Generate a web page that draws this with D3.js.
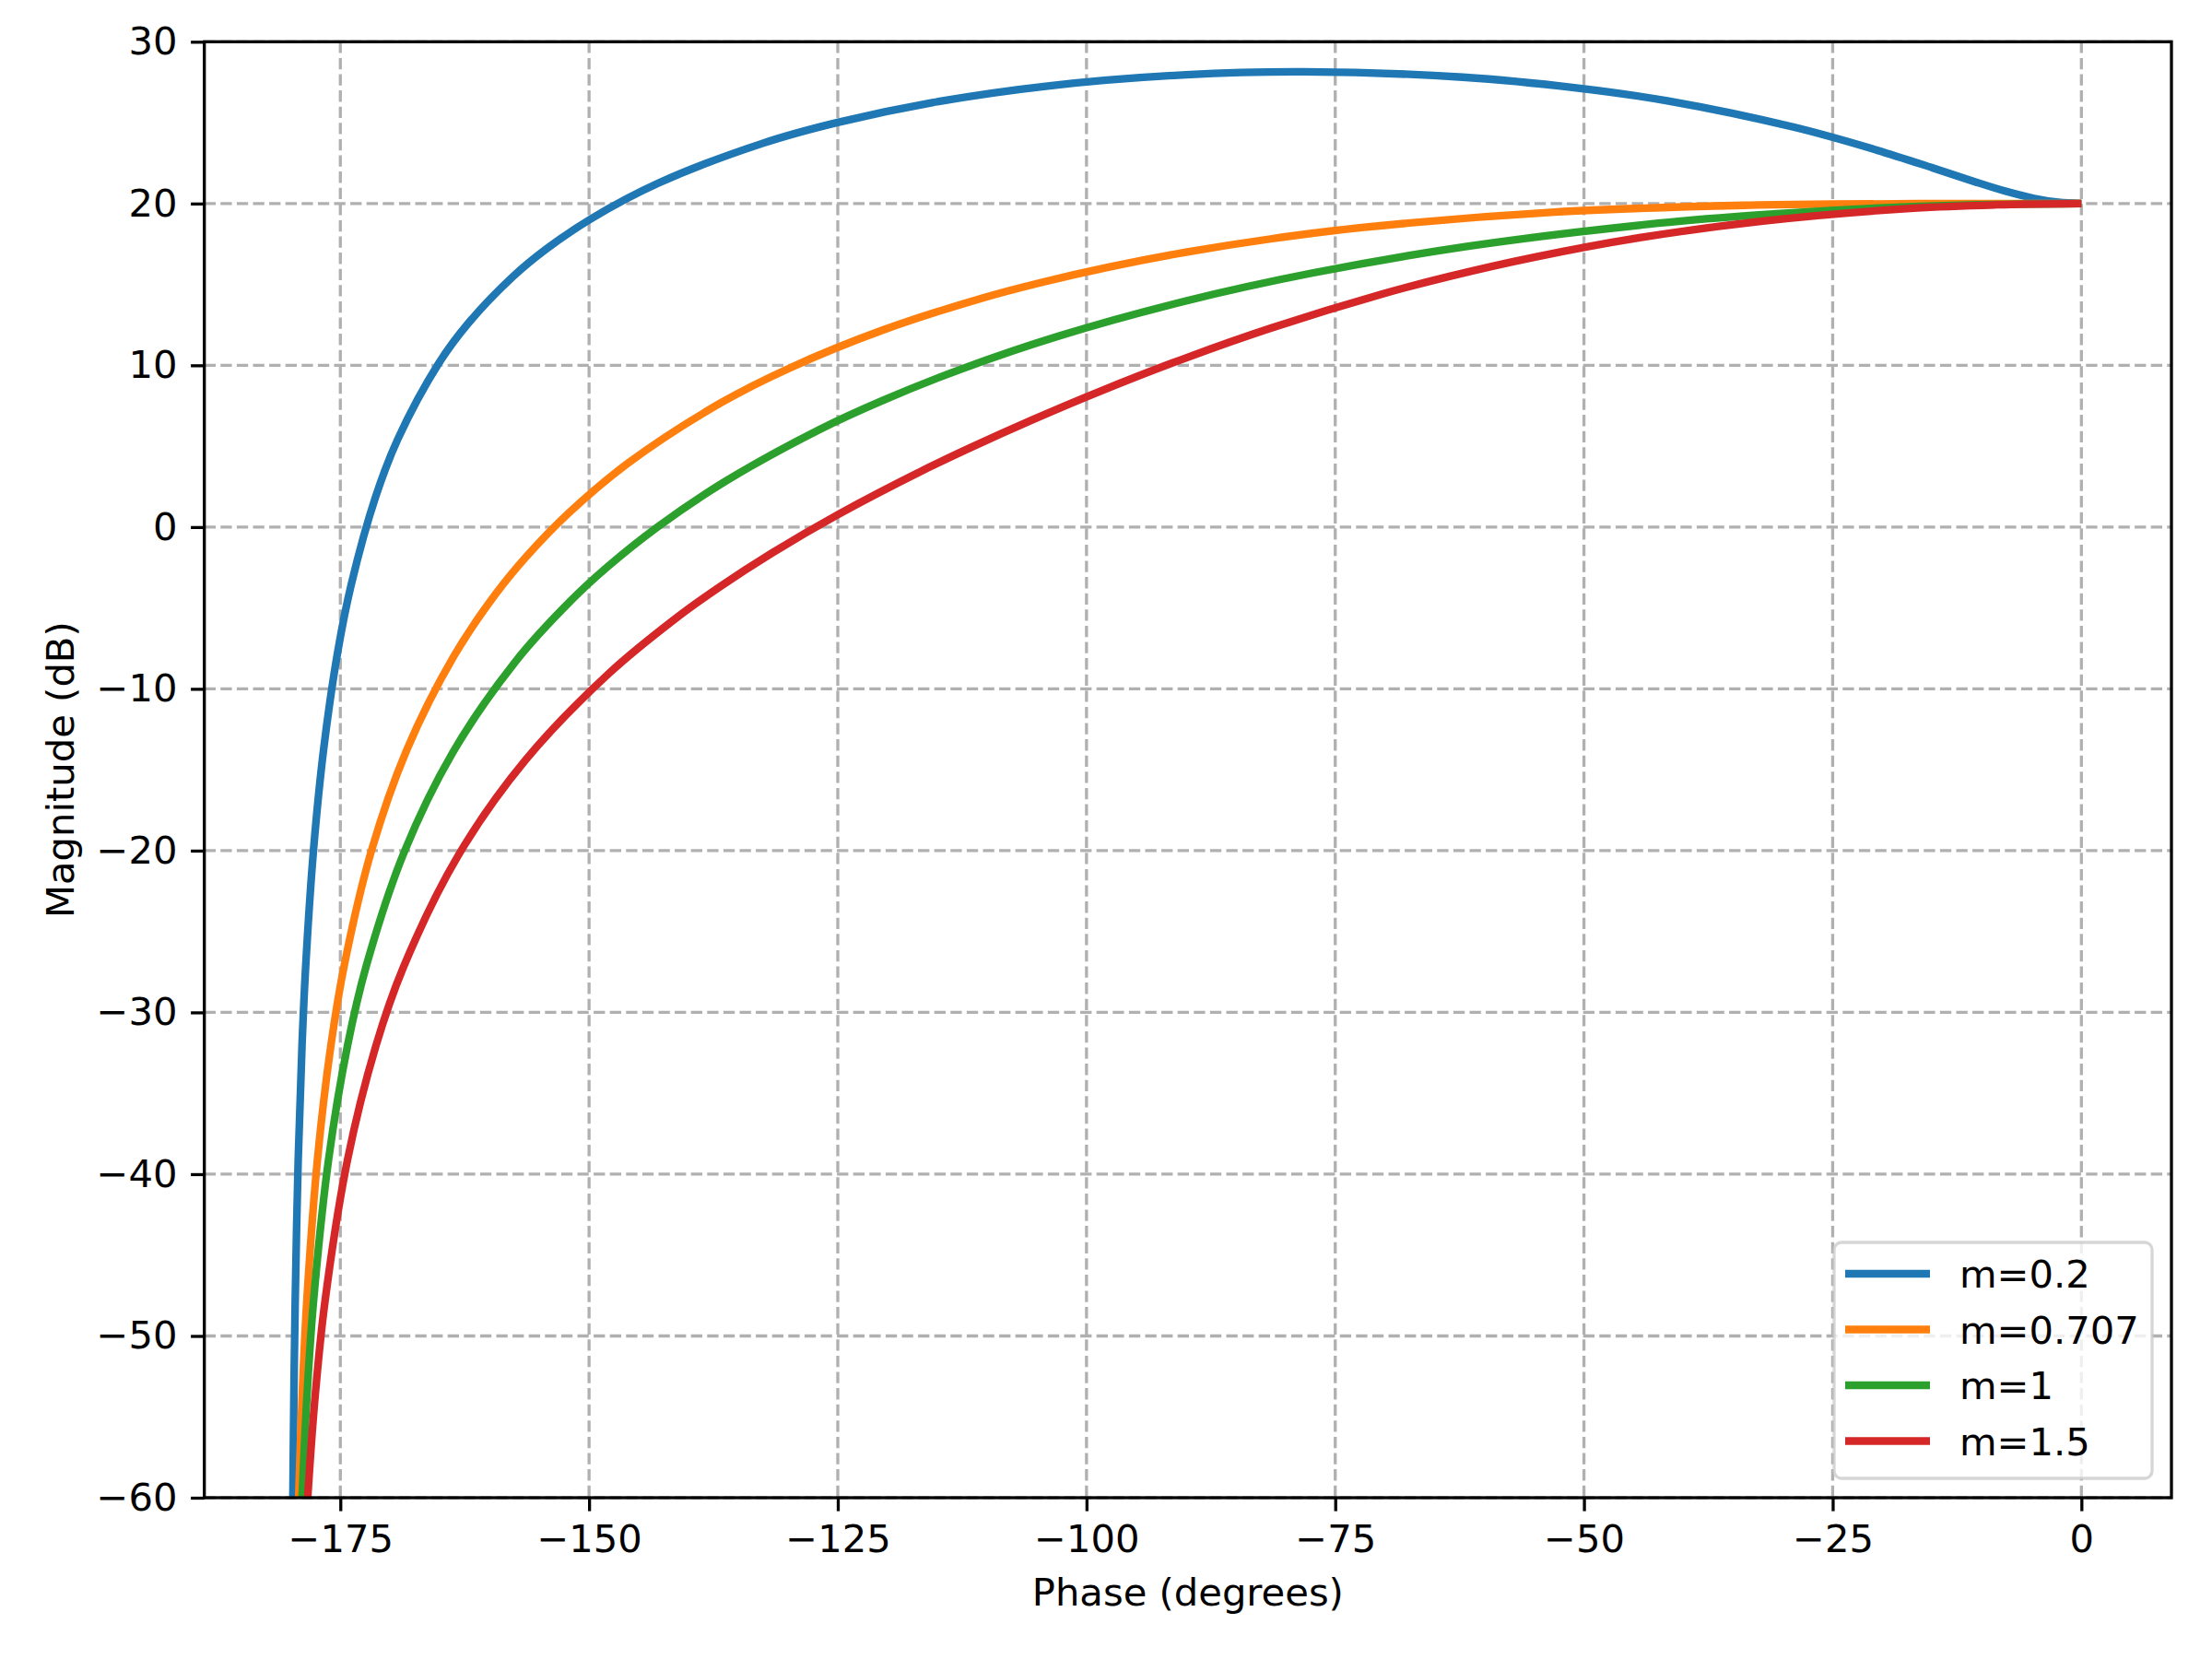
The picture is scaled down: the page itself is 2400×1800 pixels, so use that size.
<!DOCTYPE html>
<html>
<head>
<meta charset="utf-8">
<script src="https://cdn.jsdelivr.net/npm/d3@7"></script>
<style>
  body { margin: 0; background: #fff; }
  text { font-family: "DejaVu Sans", sans-serif; }
</style>
</head>
<body>
<script>
// values (phase in degrees, magnitude in dB)
var phaseM02 = [0, -2.31, -4.76, -7.51, -10.78, -14.93, -20.56, -28.77, -41.63, -50.78, -62.18, -78.22, -90.0, -103.71, -115.51, -125.03, -132.51, -143.0, -149.74, -154.36, -157.69, -162.18, -165.07, -169.22, -171.47, -173.91, -175.24, -176.66, -177.69, -178.47, -178.85, -179.235, -179.54, -179.67, -179.77, -179.81];
var magM02   = [20, 20.08, 20.32, 20.74, 21.36, 22.20, 23.30, 24.70, 26.35, 27.15, 27.81, 28.14, 27.96, 27.28, 26.24, 25.01, 23.73, 21.27, 19.08, 17.16, 15.46, 12.57, 10.16, 5.44, 1.84, -3.57, -7.63, -13.64, -19.92, -27.01, -32.02, -39.08, -47.96, -53.80, -60.0, -63.17];

var phaseM0707 = [0, -8.13, -16.41, -25.0, -33.96, -52.97, -72.35, -81.51, -90, -97.69, -104.54, -110.56, -120.51, -129.81, -136.69, -146.04, -152.06, -156.25, -159.34, -163.58, -168.35, -171.87, -174.59, -175.95, -177.30, -178.38, -178.84, -179.19, -179.32];
var magM0707   = [20, 20.0, 19.99, 19.96, 19.89, 19.47, 18.51, 17.81, 16.99, 16.08, 15.12, 14.14, 12.17, 9.84, 7.70, 3.97, 0.86, -1.79, -4.10, -7.97, -13.81, -20.0, -27.04, -32.04, -39.09, -47.96, -53.80, -60.0, -63.17];

var phaseM1 = [0, -11.42, -22.62, -33.40, -43.60, -61.93, -77.32, -90, -102.68, -112.62, -120.51, -126.87, -136.40, -143.13, -148.11, -151.93, -157.38, -163.74, -168.58, -172.37, -174.28, -176.18, -177.71, -178.36, -178.85, -179.05];
var magM1   = [20, 19.91, 19.66, 19.25, 18.71, 17.33, 15.70, 13.98, 11.83, 9.76, 7.82, 6.02, 2.79, 0, -2.44, -4.61, -8.30, -13.98, -20.09, -27.08, -32.06, -39.09, -47.96, -53.81, -60.0, -63.17];

var phaseM15 = [0, -8.55, -16.86, -32.01, -44.68, -55.01, -63.43, -70.43, -81.47, -90, -98.53, -105.52, -111.45, -116.57, -124.99, -131.63, -136.97, -141.34, -147.99, -156.37, -163.14, -168.64, -171.45, -174.28, -176.565, -177.546, -178.28, -178.57];
var magM15   = [20, 19.92, 19.71, 18.92, 17.86, 16.68, 15.51, 14.38, 12.30, 10.46, 8.42, 6.61, 4.97, 3.47, 0.77, -1.61, -3.74, -5.67, -9.04, -14.39, -20.29, -27.18, -32.12, -39.12, -47.97, -53.81, -60.0, -63.17];

var seriesNames = ["m=0.2", "m=0.707", "m=1", "m=1.5"];
var seriesColors = ["#1f77b4", "#ff7f0e", "#2ca02c", "#d62728"];
var xTicks = [-175, -150, -125, -100, -75, -50, -25, 0];
var yTicks = [-60, -50, -40, -30, -20, -10, 0, 10, 20, 30];

function drawChart() {
    var width = 2400, height = 1800;
    var pLeft = 221.7, pRight = 2356, pTop = 45.3, pBottom = 1625;
    var fs = 41.7;

    var svg = d3.select("body").append("svg")
        .attr("width", width)
        .attr("height", height);

    svg.append("rect").attr("width", width).attr("height", height).attr("fill", "#fff");

    var x = d3.scaleLinear().domain([-188.67, 9.05]).range([pLeft, pRight]);
    var y = d3.scaleLinear().domain([-60, 30]).range([pBottom, pTop]);

    function fmt(d) {
        return d < 0 ? "\u2212" + Math.abs(d) : String(d);
    }

    // dashed grid
    var grid = svg.append("g");
    grid.selectAll(".gx").data(xTicks).enter().append("line")
        .attr("x1", d => x(d)).attr("x2", d => x(d))
        .attr("y1", pTop).attr("y2", pBottom);
    grid.selectAll(".gy").data(yTicks).enter().append("line")
        .attr("x1", pLeft).attr("x2", pRight)
        .attr("y1", d => y(d)).attr("y2", d => y(d));
    grid.selectAll("line")
        .attr("stroke", "#b0b0b0")
        .attr("stroke-width", 3.3)
        .attr("stroke-dasharray", "12.3,5.3");

    // curves, clipped to the axes box
    svg.append("clipPath").attr("id", "plotClip")
        .append("rect")
        .attr("x", pLeft).attr("y", pTop)
        .attr("width", pRight - pLeft).attr("height", pBottom - pTop);

    var series = [
        [phaseM02, magM02],
        [phaseM0707, magM0707],
        [phaseM1, magM1],
        [phaseM15, magM15]
    ];

    var line = d3.line()
        .x(d => x(d[0]))
        .y(d => y(d[1]))
        .curve(d3.curveCatmullRom.alpha(0.5));

    svg.append("g").attr("clip-path", "url(#plotClip)")
        .selectAll("path")
        .data(series)
        .enter()
        .append("path")
        .attr("d", s => line(d3.zip(s[0], s[1])))
        .attr("fill", "none")
        .attr("stroke", (s, i) => seriesColors[i])
        .attr("stroke-width", 8.3)
        .attr("stroke-linejoin", "round")
        .attr("stroke-linecap", "butt");

    // axes
    var xAxis = svg.append("g")
        .attr("transform", "translate(0," + pBottom + ")")
        .call(d3.axisBottom(x).tickValues(xTicks).tickSize(14.6).tickPadding(14.6).tickFormat(fmt));
    var yAxis = svg.append("g")
        .attr("transform", "translate(" + pLeft + ",0)")
        .call(d3.axisLeft(y).tickValues(yTicks).tickSize(14.6).tickPadding(14.6).tickFormat(fmt));

    [xAxis, yAxis].forEach(function(a) {
        a.select(".domain").remove();
        a.selectAll(".tick line").attr("stroke", "#000").attr("stroke-width", 3.3);
        a.selectAll(".tick text")
            .attr("fill", "#000")
            .style("font-size", fs + "px")
            .style("font-family", "'DejaVu Sans', sans-serif");
    });

    // spines
    svg.append("rect")
        .attr("x", pLeft).attr("y", pTop)
        .attr("width", pRight - pLeft).attr("height", pBottom - pTop)
        .attr("fill", "none")
        .attr("stroke", "#000")
        .attr("stroke-width", 3.3);

    // axis labels
    svg.append("text")
        .attr("x", (pLeft + pRight) / 2)
        .attr("y", 1742)
        .attr("text-anchor", "middle")
        .style("font-size", fs + "px")
        .text("Phase (degrees)");

    svg.append("text")
        .attr("transform", "translate(80," + ((pTop + pBottom) / 2) + ") rotate(-90)")
        .attr("text-anchor", "middle")
        .style("font-size", fs + "px")
        .text("Magnitude (dB)");

    // legend
    var legend = svg.append("g");
    legend.append("rect")
        .attr("x", 1990).attr("y", 1348)
        .attr("width", 345).attr("height", 256)
        .attr("rx", 8).attr("ry", 8)
        .attr("fill", "#fff").attr("fill-opacity", 0.8)
        .attr("stroke", "#cccccc").attr("stroke-opacity", 0.8)
        .attr("stroke-width", 3.3);

    var items = legend.selectAll(".item")
        .data(seriesNames)
        .enter()
        .append("g")
        .attr("transform", (d, i) => "translate(0," + (1382 + i * 60.5) + ")");

    items.append("line")
        .attr("x1", 2002).attr("x2", 2094)
        .attr("y1", 0).attr("y2", 0)
        .attr("stroke", (d, i) => seriesColors[i])
        .attr("stroke-width", 8.3);

    items.append("text")
        .attr("x", 2126)
        .attr("y", 0)
        .attr("dy", "0.36em")
        .style("font-size", fs + "px")
        .text(d => d);
}

drawChart();
</script>
</body>
</html>
